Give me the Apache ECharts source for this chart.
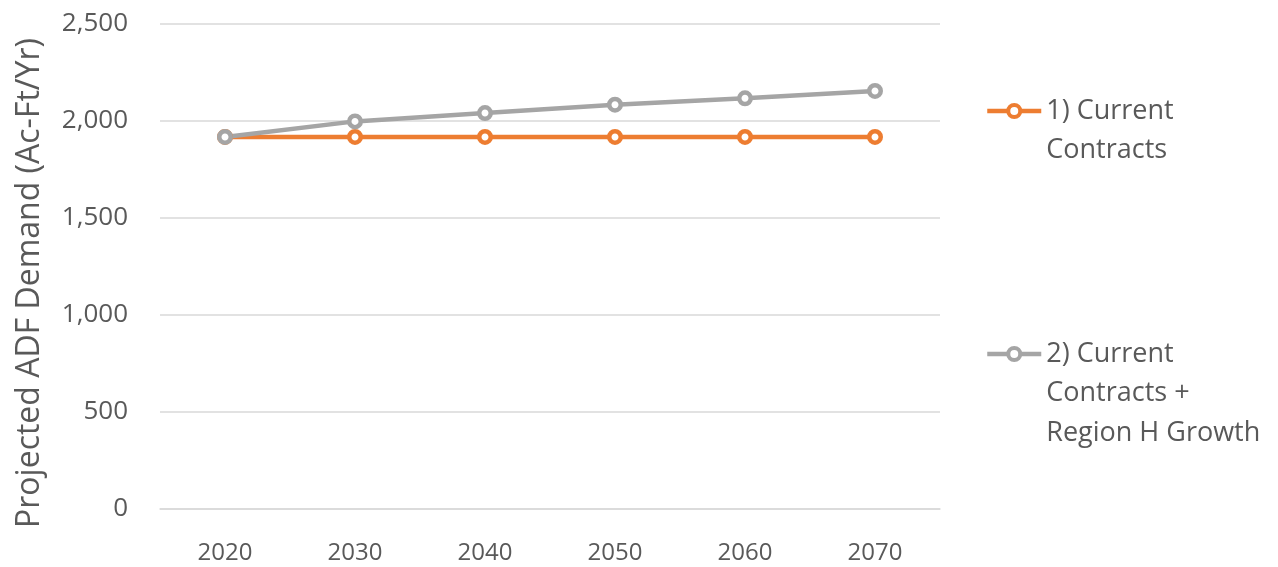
<!DOCTYPE html>
<html>
<head>
<meta charset="utf-8">
<script src="https://cdn.jsdelivr.net/npm/echarts@6/dist/echarts.min.js"></script>
<style>
  html, body { margin: 0; padding: 0; background: #fff; }
  #chart { width: 1278px; height: 567px; }
</style>
</head>
<body>
<div id="chart"></div>
<script>
// Projected ADF demand by decade
const years = ['2020', '2030', '2040', '2050', '2060', '2070'];
const currentContracts = [1918, 1918, 1918, 1918, 1918, 1918];
const regionHGrowth = [1918, 1998, 2041, 2084, 2117, 2155];
const seriesNames = ['1) Current Contracts', '2) Current Contracts + Region H Growth'];
const legendLines = [['1) Current', 'Contracts'], ['2) Current', 'Contracts +', 'Region H Growth']];
const yTicks = { min: 0, max: 2500, interval: 500 };

const FONT = '"Open Sans", "Noto Sans", sans-serif';
const TEXT = '#595959';
const LINE_H = 39.5;

const chart = echarts.init(document.getElementById('chart'), null, { renderer: 'canvas' });

function lineSeries(name, data, color) {
  return {
    name: name,
    type: 'line',
    data: data,
    symbol: 'circle',
    symbolSize: 11.5,
    showSymbol: true,
    lineStyle: { color: color, width: 4.5 },
    itemStyle: { color: '#ffffff', borderColor: color, borderWidth: 4.5 },
    emphasis: { disabled: true },
    animation: false
  };
}

// Legend entry whose first text line sits level with the icon:
// the block is padded above with blank lines so its middle is line one.
function legendFor(idx, iconY) {
  const lines = legendLines[idx];
  const n = lines.length;
  const pad = new Array(n - 1).fill(' ');
  return {
    data: [seriesNames[idx]],
    orient: 'vertical',
    left: 985,
    top: iconY - (2 * n - 1) * LINE_H / 2,
    padding: 0,
    itemWidth: 54,
    itemHeight: 15,
    formatter: () => pad.concat(lines).join('\n'),
    lineStyle: { width: 4.5 },
    itemStyle: { borderWidth: 4 },
    textStyle: {
      fontFamily: FONT,
      fontSize: 27,
      color: TEXT,
      lineHeight: LINE_H
    },
    selectedMode: false
  };
}

chart.setOption({
  backgroundColor: '#ffffff',
  color: ['#ED7D31', '#A5A5A5'],
  grid: { left: 160, right: 338, top: 24, bottom: 58, containLabel: false },
  legend: [legendFor(0, 111), legendFor(1, 354)],
  xAxis: {
    type: 'category',
    data: years,
    boundaryGap: true,
    axisLine: { show: true, lineStyle: { color: '#D9D9D9', width: 1.5 } },
    axisTick: { show: false },
    axisLabel: { color: TEXT, fontFamily: FONT, fontSize: 24, margin: 32 }
  },
  yAxis: {
    type: 'value',
    min: yTicks.min,
    max: yTicks.max,
    interval: yTicks.interval,
    axisLine: { show: false },
    axisTick: { show: false },
    splitLine: { lineStyle: { color: '#D9D9D9', width: 1.5 } },
    axisLabel: {
      color: TEXT, fontFamily: FONT, fontSize: 26, margin: 32,
      formatter: v => v.toLocaleString('en-US')
    }
  },
  graphic: [{
    type: 'text',
    x: 30,
    y: 283,
    rotation: Math.PI / 2,
    style: {
      text: 'Projected ADF Demand (Ac-Ft/Yr)',
      fontFamily: FONT,
      fontSize: 32,
      fill: TEXT,
      align: 'center',
      verticalAlign: 'middle'
    }
  }],
  series: [
    lineSeries(seriesNames[0], currentContracts, '#ED7D31'),
    lineSeries(seriesNames[1], regionHGrowth, '#A5A5A5')
  ]
});
</script>
</body>
</html>
